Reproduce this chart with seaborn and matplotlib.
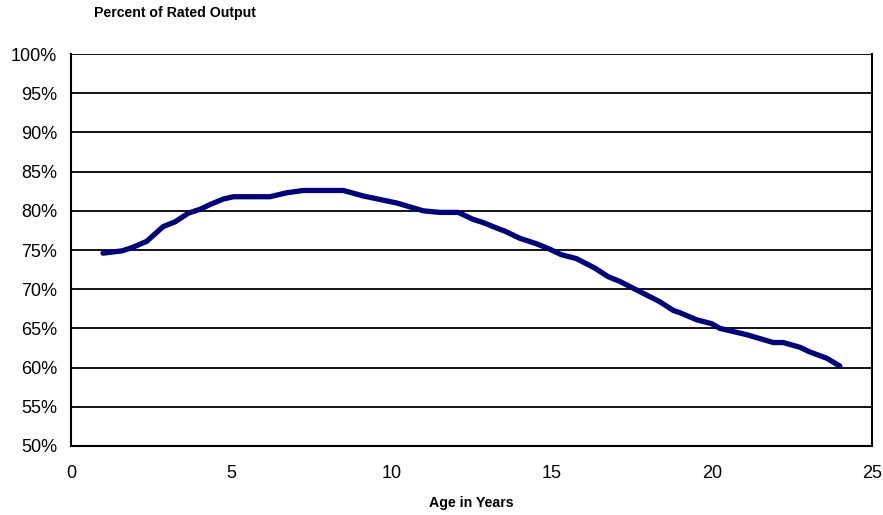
import matplotlib
matplotlib.use("Agg")
import matplotlib.pyplot as plt
import pandas as pd
import seaborn as sns
from matplotlib.ticker import PercentFormatter

# Values
age_years = [
    1.0, 1.6, 1.9, 2.36, 2.88, 3.25, 3.66, 4.03, 4.34, 4.75, 5.07, 6.21,
    6.73, 7.25, 8.5, 9.12, 10.17, 11.0, 11.52, 12.09, 12.56, 12.87, 13.29,
    13.55, 14.01, 14.53, 14.95, 15.31, 15.78, 16.35, 16.77, 17.13, 18.38,
    18.8, 19.01, 19.53, 20.0, 20.26, 21.09, 21.92, 22.23, 22.75, 23.06,
    23.59, 24.0,
]
rated_output_pct = [
    74.6, 74.9, 75.3, 76.1, 78.0, 78.6, 79.7, 80.2, 80.8, 81.5, 81.8, 81.8,
    82.3, 82.6, 82.6, 81.9, 81.0, 80.0, 79.8, 79.8, 78.9, 78.5, 77.8,
    77.4, 76.5, 75.8, 75.1, 74.4, 73.9, 72.7, 71.6, 71.0, 68.4,
    67.3, 67.0, 66.1, 65.6, 65.0, 64.2, 63.2, 63.2, 62.6, 62.0,
    61.2, 60.2,
]

df = pd.DataFrame({"age": age_years, "output": rated_output_pct})

sns.set_style("white")
plt.rcParams["font.family"] = ["Liberation Sans", "DejaVu Sans"]
plt.rcParams["text.color"] = "black"

fig = plt.figure(figsize=(8.83, 5.15), dpi=100)
ax = fig.add_axes([0.0804, 0.134, 0.907, 0.761])

sns.lineplot(data=df, x="age", y="output", ax=ax, color="#000080",
             linewidth=3.8, solid_capstyle="round", zorder=3)

ax.set_xlim(0, 25)
ax.set_ylim(50, 100)
ax.set_xticks(range(0, 26, 5))
ax.set_yticks(range(50, 101, 5))
ax.yaxis.set_major_formatter(PercentFormatter(decimals=0))
ax.grid(axis="y", color="black", linewidth=1.3)
ax.set_axisbelow(True)

for side in ["left", "bottom", "right"]:
    ax.spines[side].set_color("black")
    ax.spines[side].set_linewidth(1.5)
ax.spines["top"].set_visible(False)

ax.tick_params(axis="both", direction="out", length=6, width=1.5,
               labelsize=13, colors="black", pad=4)
ax.tick_params(axis="x", pad=8)

ax.set_xlabel("")
ax.set_ylabel("")
fig.text(0.198, 0.975, "Percent of Rated Output", fontsize=10.2,
         fontweight="bold", ha="center", va="center", color="black")
fig.text(0.534, 0.023, "Age in Years", fontsize=10.2, fontweight="bold",
         ha="center", va="center", color="black")

fig.savefig("out.png", dpi=100)
